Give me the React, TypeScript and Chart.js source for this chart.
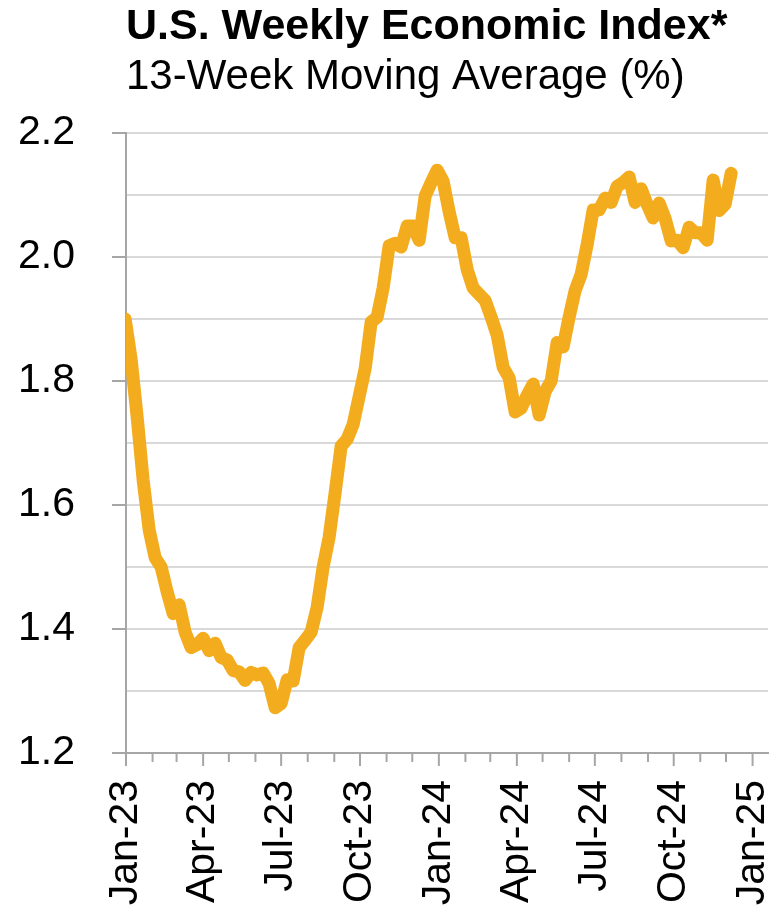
import { useEffect, useRef } from 'react';
import { Chart, registerables } from 'chart.js';

Chart.register(...registerables);

const TITLE = 'U.S. Weekly Economic Index*';
const SUBTITLE = '13-Week Moving Average (%)';

// First weekly observation (week ending Saturday) and the axis end date
const FIRST_WEEK = '2022-12-31';
const AXIS_START = '2023-01-01';
const AXIS_END = '2025-01-19';

// 13-week moving average, weekly
const WEI_VALUES = [
  1.90, 1.835, 1.742, 1.64, 1.56, 1.515, 1.50, 1.46, 1.425, 1.439,
  1.395, 1.37, 1.375, 1.385, 1.365, 1.377, 1.354, 1.35, 1.333, 1.331,
  1.317, 1.33, 1.326, 1.329, 1.312, 1.273, 1.28, 1.318, 1.316, 1.37,
  1.382, 1.395, 1.435, 1.50, 1.548, 1.62, 1.695, 1.706, 1.73, 1.775,
  1.82, 1.895, 1.903, 1.95, 2.018, 2.022, 2.016, 2.05, 2.05, 2.027,
  2.098, 2.12, 2.14, 2.122, 2.073, 2.031, 2.031, 1.98, 1.95, 1.94,
  1.93, 1.903, 1.874, 1.822, 1.805, 1.75, 1.756, 1.777, 1.795, 1.745,
  1.783, 1.80, 1.862, 1.855, 1.903, 1.946, 1.972, 2.02, 2.076, 2.076,
  2.095, 2.088, 2.114, 2.12, 2.129, 2.088, 2.11, 2.085, 2.063, 2.087,
  2.062, 2.026, 2.027, 2.015, 2.048, 2.039, 2.039, 2.027, 2.124, 2.075,
  2.085, 2.135,
];

const X_TICK_LABELS = ['Jan-23', 'Apr-23', 'Jul-23', 'Oct-23', 'Jan-24', 'Apr-24', 'Jul-24', 'Oct-24', 'Jan-25'];
const Y_MIN = 1.2;
const Y_MAX = 2.2;
const Y_STEP = 0.1;

const LINE_COLOR = '#F4AC1F';
const GRID_COLOR = '#D9D9D9';
const AXIS_COLOR = '#A6A6A6';
const FONT_FAMILY = '"Liberation Sans", Arial, Helvetica, sans-serif';

const DAY = 86400000;
const parseUTC = (s: string) => {
  const [y, m, d] = s.split('-').map(Number);
  return Date.UTC(y, m - 1, d);
};
const BASE = parseUTC(AXIS_START);
const WEEK_X = WEI_VALUES.map((_, i) => (parseUTC(FIRST_WEEK) - BASE) / DAY + 7 * i);
const MONTH_TICKS: number[] = [];
for (let m = 0; m <= 24; m++) MONTH_TICKS.push((Date.UTC(2023, m, 1) - BASE) / DAY);
const X_MAX = (parseUTC(AXIS_END) - BASE) / DAY;

const xTickPlugin = {
  id: 'xTickMarks',
  afterDraw(chart: any) {
    const s = chart.scales.x;
    const ctx = chart.ctx;
    const y0 = chart.chartArea.bottom;
    ctx.save();
    ctx.strokeStyle = AXIS_COLOR;
    ctx.lineWidth = 2;
    s.ticks.forEach((t: any, i: number) => {
      const x = s.getPixelForValue(t.value);
      const len = i % 3 === 0 ? 13 : 9;
      ctx.beginPath();
      ctx.moveTo(x, y0);
      ctx.lineTo(x, y0 + len);
      ctx.stroke();
    });
    ctx.restore();
  },
};

export default function App() {
  const ref = useRef<HTMLCanvasElement | null>(null);

  useEffect(() => {
    document.body.style.margin = '0';
    const canvas = ref.current;
    if (!canvas) return;
    const isLabeled = (v: number) => Math.round(v * 10) % 2 === 0;
    const chart = new Chart(canvas, {
      type: 'line',
      data: {
        datasets: [
          {
            data: WEI_VALUES.map((v, i) => ({ x: WEEK_X[i], y: v })),
            borderColor: LINE_COLOR,
            backgroundColor: LINE_COLOR,
            borderWidth: 13,
            pointRadius: 0,
            tension: 0,
            borderJoinStyle: 'round',
            borderCapStyle: 'round',
          },
        ],
      },
      plugins: [xTickPlugin],
      options: {
        responsive: false,
        animation: false,
        layout: { padding: { left: 19, right: 13, top: 0, bottom: 10 } },
        plugins: {
          legend: { display: false },
          tooltip: { enabled: false },
          title: {
            display: true,
            text: TITLE,
            align: 'start',
            fullSize: false,
            color: '#000',
            font: { family: FONT_FAMILY, size: 43, weight: 'bold', lineHeight: 1.2 },
            padding: { top: 1, bottom: 0 },
          },
          subtitle: {
            display: true,
            text: SUBTITLE,
            align: 'start',
            fullSize: false,
            color: '#000',
            font: { family: FONT_FAMILY, size: 42, weight: 'normal', lineHeight: 1.2 },
            padding: { top: 0, bottom: 30 },
          },
        },
        scales: {
          x: {
            type: 'linear',
            min: 0,
            max: X_MAX,
            afterBuildTicks: (scale: any) => {
              scale.ticks = MONTH_TICKS.map((v) => ({ value: v }));
            },
            afterFit: (scale: any) => {
              scale.height = 152;
              scale.paddingLeft = 0;
              scale.paddingRight = 0;
            },
            ticks: {
              autoSkip: false,
              maxRotation: 90,
              minRotation: 90,
              padding: 27,
              color: '#000',
              font: { family: FONT_FAMILY, size: 41 },
              callback: (_v: any, i: number) => (i % 3 === 0 ? X_TICK_LABELS[i / 3] : ''),
            },
            grid: { display: true, drawOnChartArea: false, drawTicks: false },
            border: { display: true, color: AXIS_COLOR, width: 2 },
          },
          y: {
            min: Y_MIN,
            max: Y_MAX,
            afterFit: (scale: any) => {
              scale.width = 107;
              scale.paddingTop = 0;
              scale.paddingBottom = 0;
            },
            ticks: {
              stepSize: Y_STEP,
              padding: 37,
              color: '#000',
              font: { family: FONT_FAMILY, size: 41 },
              callback: (v: any) => (isLabeled(Number(v)) ? (Math.round(Number(v) * 10) / 10).toFixed(1) : ''),
            },
            grid: {
              color: GRID_COLOR,
              lineWidth: 2,
              tickLength: 14,
              tickWidth: 2,
              tickColor: (c: any) => (c.tick && isLabeled(c.tick.value) ? AXIS_COLOR : 'rgba(0,0,0,0)'),
            },
            border: { display: true, color: AXIS_COLOR, width: 2 },
          },
        },
      },
    } as any);
    return () => chart.destroy();
  }, []);

  return (
    <div style={{ position: 'absolute', left: 0, top: 0, width: 781, height: 915 }}>
      <canvas ref={ref} width={781} height={915} style={{ display: 'block', width: 781, height: 915 }} />
    </div>
  );
}
